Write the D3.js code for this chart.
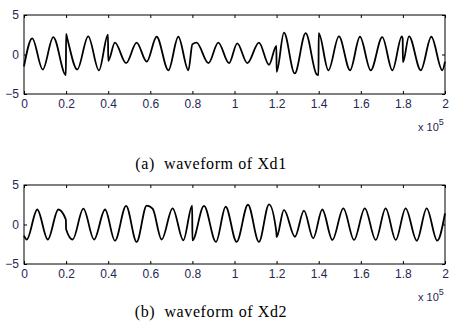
<!DOCTYPE html>
<html>
<head>
<meta charset="utf-8">
<script src="https://cdn.jsdelivr.net/npm/d3@7"></script>
<style>
  body { margin: 0; background: #fff; }
  svg { display: block; }
</style>
</head>
<body>
<script>
// x in units of 1e5 samples (extremes and jumps)
const xd1Time = [0, 0.039, 0.089, 0.139, 0.199, 0.2, 0.205, 0.253, 0.305, 0.356, 0.399, 0.4,
  0.432, 0.485, 0.535, 0.583, 0.63, 0.686, 0.733, 0.781, 0.8, 0.82, 0.876, 0.923, 0.974,
  1.013, 1.061, 1.116, 1.164, 1.199, 1.2, 1.235, 1.286, 1.338, 1.39, 1.399, 1.4, 1.446,
  1.496, 1.549, 1.596, 1.647, 1.702, 1.75, 1.795, 1.799, 1.8, 1.829, 1.885, 1.935, 1.987, 2];
const xd1Value = [-1.5, 2.05, -1.9, 2.2, -2.6, 2.6, 2.1, -1.9, 2.3, -2.0, 2.5, -0.8,
  1.5, -1.1, 1.5, -0.9, 2.25, -2.0, 2.25, -2.0, 1.3, 1.5, -1.1, 1.5, -1.1,
  1.4, -1.1, 1.5, -1.3, 1.1, -2.2, 2.76, -2.4, 2.7, -2.5, -2.6, 2.7, -2.0,
  2.3, -2.0, 2.25, -2.0, 2.2, -2.0, 2.3, 2.0, -1.0, 2.3, -2.0, 2.25, -2.0, -0.9];

const xd2Time = [0, 0.013, 0.063, 0.113, 0.163, 0.199, 0.2, 0.231, 0.282, 0.333, 0.385,
  0.432, 0.485, 0.535, 0.583, 0.611, 0.654, 0.706, 0.757, 0.799, 0.8, 0.855, 0.912,
  0.958, 1.01, 1.064, 1.116, 1.164, 1.199, 1.2, 1.235, 1.287, 1.33, 1.374, 1.417, 1.465,
  1.517, 1.568, 1.619, 1.671, 1.718, 1.766, 1.813, 1.866, 1.913, 1.963, 2];
const xd2Value = [-1.4, -1.9, 1.9, -1.9, 1.9, 0.6, -0.6, -1.9, 2.0, -1.9, 1.9,
  -2.05, 2.35, -2.2, 2.4, 2.0, -1.9, 2.05, -2.0, 2.4, -2.0, 2.35, -2.2,
  2.25, -2.2, 2.5, -2.2, 2.55, -1.0, -1.6, 1.85, -1.55, 1.75, -1.75, 1.9, -1.95,
  2.05, -1.95, 2.05, -1.95, 2.05, -1.95, 2.05, -2.05, 2.05, -2.05, 1.4];

const xTicks = [0, 0.2, 0.4, 0.6, 0.8, 1, 1.2, 1.4, 1.6, 1.8, 2];
const yTicks = [-5, 0, 5];

const width = 449;
const height = 327;
const labelColor = "#262652";

const panels = [
  { time: xd1Time, value: xd1Value, top: 15, bottom: 94, caption: "(a)  waveform of Xd1", capY: 169 },
  { time: xd2Time, value: xd2Value, top: 185, bottom: 264, caption: "(b)  waveform of Xd2", capY: 317 }
];

const svg = d3
  .select("body")
  .append("svg")
  .attr("width", width)
  .attr("height", height);

const x = d3.scaleLinear().domain([0, 2]).range([24, 445]);

panels.forEach((p) => {
  const y = d3.scaleLinear().domain([-5, 5]).range([p.bottom, p.top]);
  const g = svg.append("g");

  const pts = p.time.map((t, i) => [t, p.value[i]]);
  g.append("path")
    .datum(pts)
    .attr("fill", "none")
    .attr("stroke", "#000")
    .attr("stroke-width", 1.8)
    .attr("stroke-linejoin", "round")
    .attr(
      "d",
      d3
        .line()
        .x((d) => x(d[0]))
        .y((d) => y(d[1]))
        .curve(d3.curveMonotoneX)
    );

  // ticks point inward, like the matlab box
  const bottomAxis = g
    .append("g")
    .attr("transform", `translate(0,${p.bottom})`)
    .call(d3.axisBottom(x).tickValues(xTicks).tickSize(-3).tickPadding(5).tickFormat(d3.format("")));
  g.append("g")
    .attr("transform", `translate(0,${p.top})`)
    .call(d3.axisTop(x).tickValues(xTicks).tickSize(-3).tickFormat(""));
  const leftAxis = g
    .append("g")
    .attr("transform", `translate(${x(0)},0)`)
    .call(d3.axisLeft(y).tickValues(yTicks).tickSize(-3).tickPadding(5));
  g.append("g")
    .attr("transform", `translate(${x(2)},0)`)
    .call(d3.axisRight(y).tickValues(yTicks).tickSize(-3).tickFormat(""));

  g.selectAll(".domain").remove();
  g.selectAll(".tick line").attr("stroke", "#000");
  [bottomAxis, leftAxis].forEach((a) =>
    a.selectAll("text")
      .attr("fill", labelColor)
      .attr("font-family", "Liberation Sans, Arial, sans-serif")
      .attr("font-size", 12)
  );

  g.append("rect")
    .attr("x", x(0))
    .attr("y", p.top)
    .attr("width", x(2) - x(0))
    .attr("height", p.bottom - p.top)
    .attr("fill", "none")
    .attr("stroke", "#000")
    .attr("stroke-width", 1);

  const mult = g.append("text")
    .attr("x", 418)
    .attr("y", p.bottom + 37)
    .attr("fill", labelColor)
    .attr("font-family", "Liberation Sans, Arial, sans-serif")
    .attr("font-size", 11);
  mult.append("tspan").text("x 10");
  mult.append("tspan").attr("dy", -6).attr("font-size", 9).text("5");

  svg.append("text")
    .attr("x", 211)
    .attr("y", p.capY)
    .attr("text-anchor", "middle")
    .attr("font-family", "Liberation Serif, Times New Roman, serif")
    .attr("font-size", 16)
    .attr("letter-spacing", 0.6)
    .style("white-space", "pre")
    .text(p.caption);
});
</script>
</body>
</html>
